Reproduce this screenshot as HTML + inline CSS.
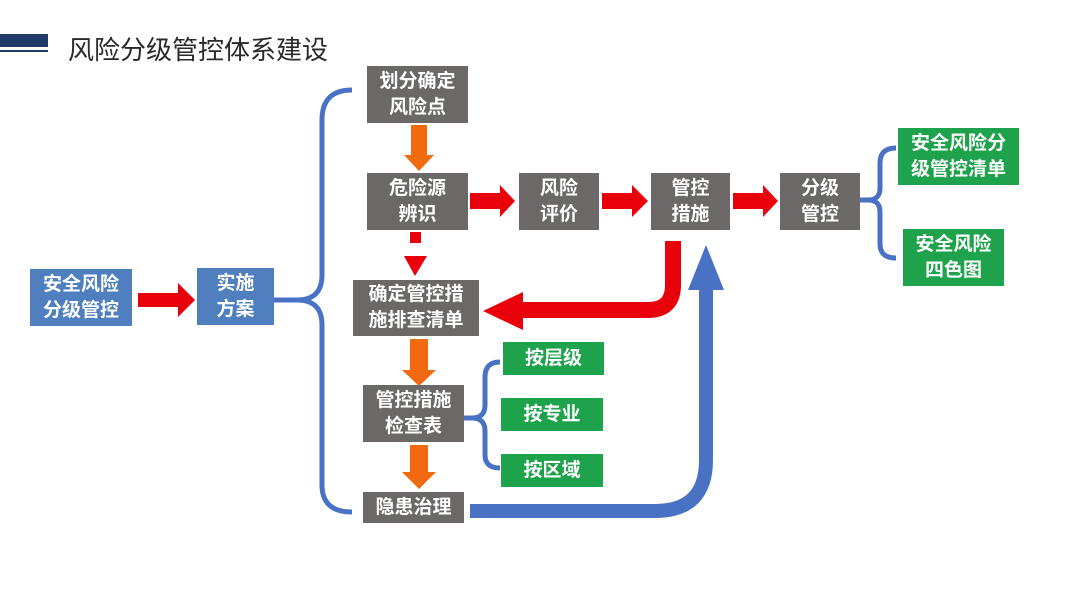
<!DOCTYPE html>
<html><head><meta charset="utf-8"><style>
body{margin:0;width:1080px;height:608px;background:#fff;position:relative;overflow:hidden;font-family:"Liberation Sans","Noto Sans CJK SC",sans-serif}
.b{position:absolute;display:flex;align-items:center;justify-content:center;text-align:center;color:#fff;font-weight:bold;font-size:19px;line-height:26px}
.g{background:#6b6867}.u{background:#4f7fbe}.n{background:#1ea24b}
svg{position:absolute;left:0;top:0}
</style></head><body>
<svg width="1080" height="608">
<rect x="0" y="34" width="48" height="13" fill="#1f3a68"/>
<rect x="0" y="50" width="48" height="2" fill="#1f3a68"/>
<!-- big brace -->
<path d="M352 90 Q322 90 322 120 L322 275 Q322 300 297 300 L274 300 M297 300 Q322 300 322 325 L322 485 Q322 512 352 512" fill="none" stroke="#4a72c4" stroke-width="5"/>
<!-- small brace -->
<path d="M500 362 Q485 362 485 377 L485 405 Q485 418 472 418 L445 418 M472 418 Q485 418 485 431 L485 455 Q485 468 500 468" fill="none" stroke="#4a72c4" stroke-width="5"/>
<!-- right brace -->
<path d="M896 148 Q880 148 880 163 L880 188 Q880 200 868 200 L860 200 M868 200 Q880 200 880 212 L880 244 Q880 258 896 258" fill="none" stroke="#4a72c4" stroke-width="5"/>
<!-- red horizontal arrows -->
<polygon points="138,293 178,293 178,283 195,300 178,317 178,307 138,307" fill="#e8000b"/>
<polygon points="470,193 500,193 500,185 515,201 500,217 500,209 470,209" fill="#e8000b"/>
<polygon points="602,193 632,193 632,185 648,201 632,217 632,209 602,209" fill="#e8000b"/>
<polygon points="733,193 763,193 763,185 778,201 763,217 763,209 733,209" fill="#e8000b"/>
<!-- orange down arrows -->
<polygon points="411,125 427,125 427,155 434,155 419,171 404,155 411,155" fill="#f26a10"/>
<polygon points="410,339 428,339 428,370 436,370 419,386 402,370 410,370" fill="#f26a10"/>
<polygon points="410,445 428,445 428,472 436,472 419,489 402,472 410,472" fill="#f26a10"/>
<!-- dashed red -->
<rect x="410" y="232" width="11" height="11" fill="#e8000b"/>
<polygon points="404,256 427,256 415,276" fill="#e8000b"/>
<!-- red U arrow -->
<path d="M673 241 L673 285 Q673 310 648 310 L520 310" fill="none" stroke="#e8000b" stroke-width="16"/>
<polygon points="523,292 483,311 523,330" fill="#e8000b"/>
<!-- blue arrow -->
<path d="M470 511 L655 511 Q706 511 706 460 L706 285" fill="none" stroke="#4a72c4" stroke-width="14"/>
<polygon points="688,290 706,245 724,290" fill="#4a72c4"/>
</svg>
<div style="position:absolute;left:68px;top:30px;font-size:26px;color:#2a2a2a;font-family:'Liberation Sans','Noto Sans CJK SC',sans-serif">风险分级管控体系建设</div>
<div class="b u" style="left:30px;top:269px;width:102px;height:57px">安全风险<br>分级管控</div>
<div class="b u" style="left:197px;top:268px;width:77px;height:57px">实施<br>方案</div>
<div class="b g" style="left:367px;top:66px;width:101px;height:57px">划分确定<br>风险点</div>
<div class="b g" style="left:367px;top:173px;width:101px;height:57px">危险源<br>辨识</div>
<div class="b g" style="left:353px;top:280px;width:126px;height:56px">确定管控措<br>施排查清单</div>
<div class="b g" style="left:363px;top:385px;width:101px;height:57px">管控措施<br>检查表</div>
<div class="b g" style="left:363px;top:492px;width:101px;height:31px">隐患治理</div>
<div class="b n" style="left:503px;top:342px;width:101px;height:33px">按层级</div>
<div class="b n" style="left:501px;top:398px;width:102px;height:33px">按专业</div>
<div class="b n" style="left:501px;top:454px;width:102px;height:33px">按区域</div>
<div class="b g" style="left:519px;top:173px;width:80px;height:57px">风险<br>评价</div>
<div class="b g" style="left:651px;top:173px;width:79px;height:57px">管控<br>措施</div>
<div class="b g" style="left:780px;top:173px;width:80px;height:57px">分级<br>管控</div>
<div class="b n" style="left:898px;top:128px;width:121px;height:57px">安全风险分<br>级管控清单</div>
<div class="b n" style="left:903px;top:229px;width:101px;height:57px">安全风险<br>四色图</div>
</body></html>
